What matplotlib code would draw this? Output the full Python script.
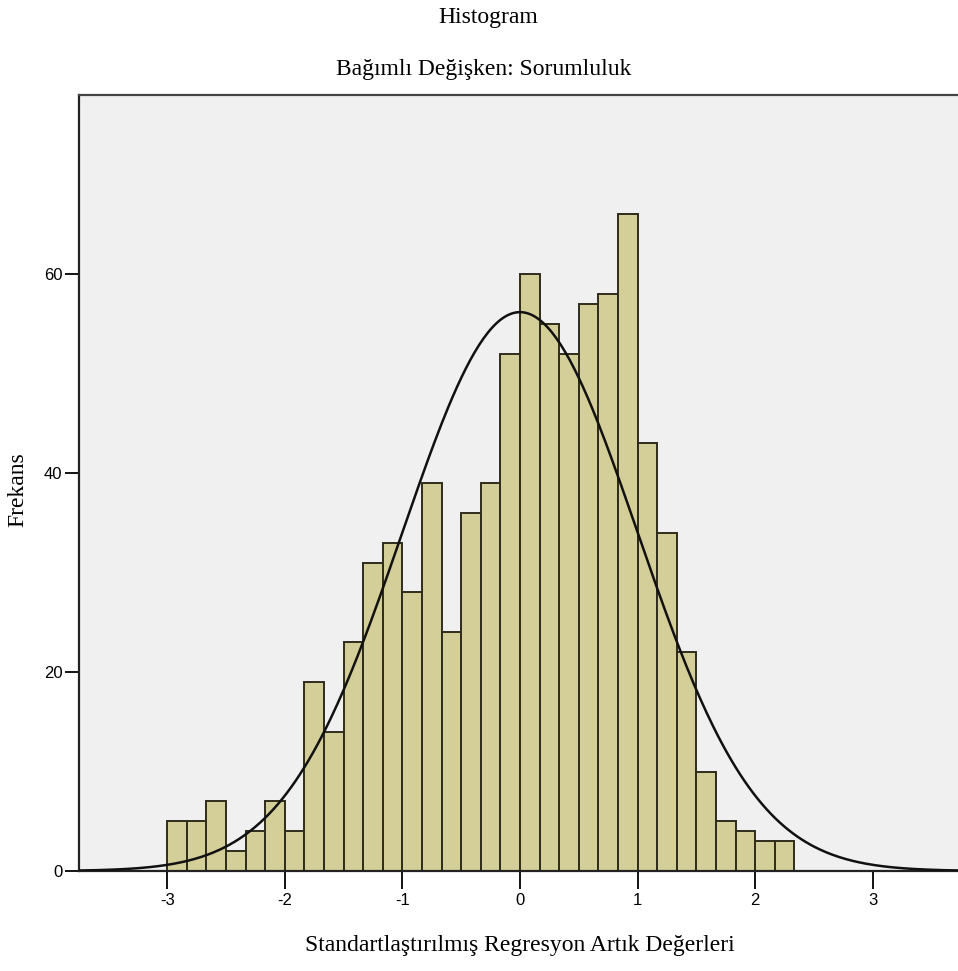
import numpy as np
import matplotlib.pyplot as plt

# bin edges start at -3, six bins per unit
bin_start = -3.0
bin_width = 1.0 / 6.0
counts = [5, 5, 7, 2, 4, 7, 4,
          19, 14, 23, 31, 33, 28, 39, 24, 36, 39,
          52, 60, 55, 52, 57, 58, 66, 43, 34, 22, 10, 5, 4, 3, 3]
resid_mean = 0.0
resid_std = 0.999

x_ticks = [-3, -2, -1, 0, 1, 2, 3]
y_ticks = [0, 20, 40, 60]

title = "Histogram"
subtitle = "Bağımlı Değişken: Sorumluluk"
x_label = "Standartlaştırılmış Regresyon Artık Değerleri"
y_label = "Frekans"

serif = "Liberation Serif"
sans = "Liberation Sans"

fig = plt.figure(figsize=(9.58, 9.71), dpi=100)
ax = fig.add_axes([79 / 958, 1 - 871 / 971, 882 / 958, (871 - 95) / 971])
ax.set_facecolor("#f0f0f0")

lefts = bin_start + bin_width * np.arange(len(counts))
ax.bar(lefts, counts, width=bin_width, align="edge", color="#d4cf98",
       edgecolor="#2f2c1c", linewidth=1.4, zorder=2)

n_total = sum(counts)
xs = np.linspace(-3.75, 3.75, 400)
pdf = np.exp(-0.5 * ((xs - resid_mean) / resid_std) ** 2) / (resid_std * np.sqrt(2 * np.pi))
ax.plot(xs, n_total * bin_width * pdf, color="#111111", linewidth=1.8, zorder=3)

ax.set_xlim(-3.75, 3.75)
ax.set_ylim(0, 78)
ax.set_xticks(x_ticks)
ax.set_yticks(y_ticks)
ax.set_xticklabels([str(t) for t in x_ticks], fontfamily=sans, fontsize=12)
ax.set_yticklabels([str(t) for t in y_ticks], fontfamily=sans, fontsize=12)
ax.tick_params(axis="x", length=13, width=1.3, direction="out", pad=3)
ax.tick_params(axis="y", length=10, width=1.3, direction="out", pad=2)

for side in ["left", "bottom"]:
    ax.spines[side].set_linewidth(1.6)
    ax.spines[side].set_color("#222222")
ax.spines["top"].set_linewidth(1.6)
ax.spines["top"].set_color("#444444")
ax.spines["right"].set_visible(False)

fig.text(0.5 * (437 + 540) / 958, 1 - 18 / 971, title, family=serif, fontsize=17,
         ha="center", va="center")
fig.text(0.5 * (340 + 628) / 958, 1 - 70 / 971, subtitle, family=serif, fontsize=17,
         ha="center", va="center")
fig.text(0.5 * (312 + 727) / 958, 1 - 945 / 971, x_label, family=serif, fontsize=17,
         ha="center", va="center")
fig.text(18 / 958, 1 - 490 / 971, y_label, family=serif, fontsize=17,
         ha="center", va="center", rotation=90)

fig.savefig("out.png", dpi=100)
